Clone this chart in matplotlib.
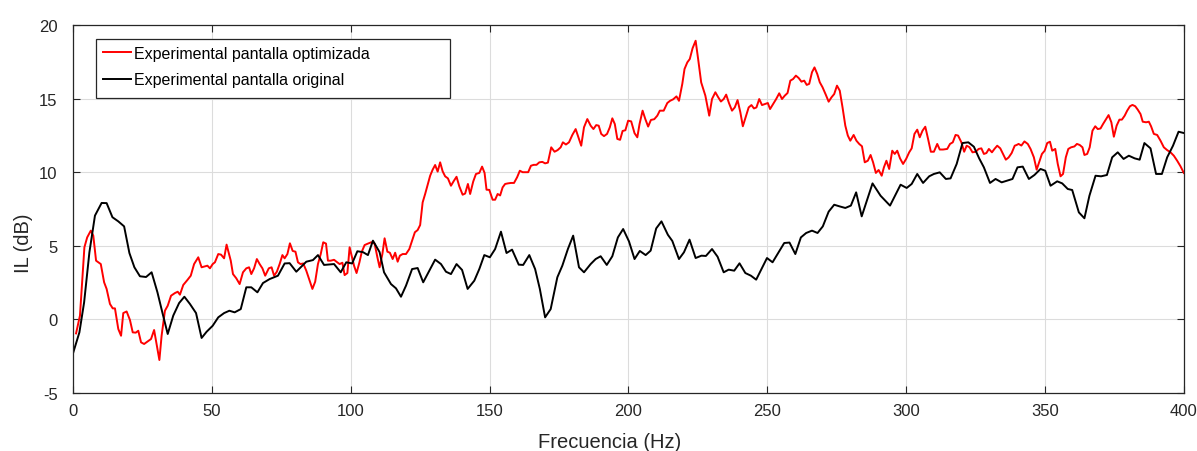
import matplotlib
matplotlib.use("Agg")
import matplotlib.pyplot as plt
from matplotlib.patches import Rectangle

# --- Data ---
freq_opt = [1.1, 2.5, 4.1, 5.1, 6.4, 7.3, 8.3, 10.0, 11.2, 12.1, 13.3, 14.3, 15.1, 16.3, 17.3, 18.1,
            19.3, 20.5, 21.5, 22.6, 23.5, 24.5, 25.6, 26.8, 28.1, 29.2, 30.1, 31.1, 31.9, 33.1, 34.1,
            35.3, 36.7, 37.7, 38.5, 39.7, 41.2, 42.4, 43.6, 45.1, 46.3, 47.5, 48.4, 49.3, 50.3, 51.1,
            52.3, 53.3, 54.4, 55.3, 56.8, 57.6, 58.8, 60.0, 61.2, 62.4, 63.4, 64.2, 65.2, 66.2, 67.2,
            68.2, 69.2, 70.5, 71.5, 72.4, 73.4, 74.4, 75.4, 76.2, 77.2, 78.1, 79.1, 80.1, 81.0, 81.9,
            82.9, 84.0, 85.2, 86.2, 87.2, 88.2, 89.2, 90.1, 91.1, 91.8, 92.8, 94.0, 95.0, 96.0, 97.0,
            97.8, 98.8, 99.6, 100.2, 101.2, 102.1, 103.1, 104.0, 105.0, 106.2, 107.4, 108.6, 109.6,
            110.4, 111.4, 112.2, 113.2, 114.1, 115.1, 116.0, 116.9, 117.7, 118.7, 119.9, 121.1, 122.1,
            123.1, 124.1, 125.0, 125.9, 126.8, 127.7, 128.6, 129.5, 130.4, 131.3, 132.2, 133.1, 134.0,
            135.0, 136.1, 137.1, 138.1, 139.1, 140.3, 141.2, 142.2, 143.0, 144.1, 145.1, 146.3, 147.3,
            148.2, 148.9, 149.9, 151.1, 152.0, 152.9, 153.8, 154.7, 155.6, 156.6, 157.7, 158.8, 159.9,
            160.9, 161.9, 162.8, 163.9, 164.9, 165.9, 166.9, 167.9, 169.0, 170.0, 171.0, 172.2, 173.4,
            174.5, 175.6, 176.4, 177.5, 178.6, 179.8, 181.0, 182.2, 183.0, 184.0, 185.2, 186.4, 187.4,
            188.4, 189.3, 190.2, 191.2, 192.3, 193.3, 194.2, 195.1, 196.0, 197.0, 197.9, 198.9, 199.9,
            201.0, 202.2, 203.2, 204.0, 205.1, 206.1, 207.1, 208.1, 209.3, 210.4, 211.3, 212.7, 214.0,
            215.0, 216.1, 217.3, 218.2, 219.4, 220.2, 221.2, 222.1, 223.1, 224.2, 225.1, 226.2, 227.7,
            229.1, 230.1, 231.3, 232.3, 233.3, 234.3, 235.2, 236.2, 237.3, 238.3, 239.3, 240.3, 241.2,
            242.2, 243.3, 244.3, 245.2, 246.1, 247.1, 248.1, 249.2, 250.2, 251.0, 252.1, 253.2, 254.3,
            255.3, 256.3, 257.3, 258.3, 259.3, 260.3, 261.3, 262.3, 263.3, 264.2, 265.1, 266.1, 267.0,
            268.0, 268.9, 269.9, 271.1, 272.1, 273.1, 274.1, 275.1, 276.1, 277.1, 278.1, 279.0, 279.9,
            281.1, 282.1, 283.1, 284.1, 285.1, 286.2, 287.2, 288.1, 289.1, 290.1, 291.2, 292.0, 292.9,
            293.9, 295.0, 295.9, 296.8, 297.8, 298.9, 300.0, 301.1, 302.0, 303.0, 304.0, 304.9, 305.9,
            306.9, 307.9, 308.9, 310.0, 311.2, 312.1, 313.3, 314.8, 315.8, 316.8, 317.8, 318.7, 319.9,
            320.9, 321.8, 322.8, 323.9, 325.1, 326.1, 327.1, 328.0, 328.9, 329.8, 330.9, 331.8, 332.8,
            333.9, 334.9, 335.9, 336.9, 338.0, 339.1, 339.8, 340.5, 341.5, 342.6, 343.8, 344.8, 346.0,
            347.0, 347.9, 348.9, 349.9, 350.8, 351.8, 352.6, 353.7, 354.6, 355.6, 356.5, 357.5, 358.4,
            359.4, 360.6, 361.5, 362.5, 363.5, 364.2, 365.2, 366.1, 367.1, 368.1, 369.0, 370.0, 370.9,
            371.9, 372.9, 373.9, 374.8, 375.8, 376.8, 377.7, 378.7, 379.6, 380.6, 381.5, 382.5, 383.4,
            384.4, 385.2, 386.4, 387.4, 388.2, 389.2, 390.4, 391.6, 392.8, 394.0, 395.2, 396.4, 397.6,
            398.8, 400.0]
il_opt = [-0.95, 0.26, 4.9, 5.57, 6.03, 5.69, 3.99, 3.76, 2.52, 2.07, 1.05, 0.75, 0.75, -0.65, -1.11, 0.43,
          0.54, -0.04, -0.88, -0.9, -0.77, -1.56, -1.67, -1.51, -1.33, -0.72, -1.67, -2.76, -1.11, 0.59, 0.93,
          1.61, 1.79, 1.88, 1.68, 2.34, 2.68, 2.97, 3.76, 4.22, 3.54, 3.6, 3.65, 3.47, 3.76, 3.88,
          4.44, 4.4, 4.15, 5.08, 3.99, 3.08, 2.79, 2.4, 3.2, 3.47, 3.54, 3.08, 3.47, 4.1, 3.76,
          3.47, 2.97, 3.47, 3.54, 2.97, 3.24, 3.76, 4.37, 4.15, 4.44, 5.17, 4.65, 4.6, 3.88, 3.76,
          3.8, 3.31, 2.63, 2.07, 2.56, 3.76, 4.44, 5.24, 5.15, 3.99, 3.99, 4.05, 3.9, 3.76, 3.85,
          3.01, 3.15, 4.9, 4.44, 3.65, 3.15, 3.85, 4.6, 5.05, 5.15, 5.24, 5.15, 4.22,
          3.54, 4.44, 5.51, 4.6, 4.53, 4.1, 4.53, 3.92, 4.33, 4.44, 4.44, 4.78, 5.35,
          5.92, 6.07, 6.41, 7.95, 8.52, 9.13, 9.76, 10.17, 10.49, 10.04, 10.67, 10.06, 9.72,
          9.58, 9.08, 9.4, 9.69, 9.04, 8.47, 8.55, 9.2, 8.52, 9.36, 9.88, 9.95, 10.38,
          9.95, 8.81, 8.8, 8.13, 8.13, 8.52, 8.42, 8.97, 9.2, 9.24, 9.27, 9.27, 9.65,
          10.1, 10.0, 10.0, 10.0, 10.44, 10.5, 10.5, 10.67, 10.7, 10.6, 10.65, 11.69, 11.39,
          11.5, 11.69, 12.03, 11.88, 12.03, 12.53, 12.93, 12.26, 11.8, 13.05, 13.61, 13.16, 12.93,
          13.2, 13.16, 12.6, 12.45, 12.6, 13.05, 13.66, 13.27, 12.26, 12.2, 12.8, 12.85, 13.5,
          13.45, 12.65, 12.37, 13.27, 14.18, 13.6, 13.1, 13.55, 13.6, 13.84, 14.18, 14.18, 14.7,
          14.85, 14.95, 15.15, 14.85, 16.0, 17.01, 17.46, 17.69, 18.42, 18.93, 17.69, 16.1, 15.2,
          13.84, 14.97, 15.43, 15.1, 14.8, 14.97, 15.27, 14.7, 14.18, 14.4, 14.9, 14.07, 13.12,
          13.73, 14.4, 14.56, 14.33, 14.4, 14.97, 14.56, 14.63, 14.7, 14.29, 14.63, 14.97, 15.36,
          14.97, 15.2, 15.38, 16.22, 16.33, 16.56, 16.4, 16.15, 16.22, 15.93, 16.0, 16.79, 17.12,
          16.67, 16.11, 15.77, 15.25, 14.79, 15.08, 15.31, 15.88, 15.54, 14.4, 13.16, 12.49, 12.14,
          12.53, 12.14, 11.92, 11.76, 10.67, 10.78, 11.17, 10.67, 9.95, 10.15, 9.76, 10.33, 10.78,
          10.22, 11.46, 11.24, 11.46, 10.94, 10.56, 10.9, 11.35, 11.62, 12.6, 12.89, 12.37, 12.82,
          13.09, 12.26, 11.39, 11.39, 11.92, 11.54, 11.54, 11.58, 11.92, 12.03, 12.53, 12.49, 12.03,
          11.39, 11.8, 11.7, 11.35, 11.39, 11.58, 11.62, 11.24, 11.3, 11.58, 11.35, 11.58, 11.8,
          11.62, 11.24, 10.85, 11.0, 11.3, 11.8, 11.85, 11.92, 11.81, 12.09, 11.92, 11.58, 11.01,
          10.17, 10.67, 11.24, 11.46, 11.98, 12.07, 11.46, 11.58, 10.56, 9.72, 9.88, 11.01, 11.58,
          11.69, 11.75, 11.92, 11.85, 11.69, 11.17, 11.24, 11.69, 12.82, 13.12, 12.93, 12.97, 13.27,
          13.57, 13.88, 13.39, 12.41, 13.16, 13.57, 13.57, 13.84, 14.18, 14.48, 14.57, 14.48, 14.25,
          13.95, 13.43, 13.39, 13.43, 13.12, 12.6, 12.53, 12.14, 11.69, 11.5, 11.35, 11.12, 10.78,
          10.4, 9.95]

freq_orig = [0.1, 2.3, 4.0, 5.9, 7.9, 10.3, 12.1, 14.2, 16.3, 18.4, 20.3, 22.1, 24.1, 26.3, 28.3, 30.4,
             32.3, 34.1, 36.1, 38.2, 40.1, 42.1, 44.3, 46.3, 48.1, 50.3, 52.3, 54.4, 56.3, 58.2, 60.4,
             62.4, 64.2, 66.4, 68.4, 70.8, 73.8, 76.2, 78.0, 80.4, 84.0, 86.4, 88.2, 90.4, 94.0, 96.4,
             98.4, 100.5, 102.4, 104.4, 106.2, 108.0, 110.4, 112.0, 114.5, 116.3, 118.1, 119.9, 122.1,
             124.1, 126.1, 128.3, 130.4, 132.5, 134.3, 136.1, 138.1, 140.1, 142.1, 144.5, 146.3, 148.1,
             150.1, 152.0, 154.1, 156.1, 158.1, 160.5, 162.1, 164.3, 166.4, 168.1, 170.0, 172.0, 174.4,
             176.2, 178.2, 180.1, 182.2, 184.0, 186.4, 188.2, 190.0, 192.2, 194.2, 196.2, 198.1, 200.2,
             202.2, 204.1, 206.2, 208.0, 210.0, 211.9, 214.2, 215.8, 218.2, 220.0, 222.0, 224.2, 226.3,
             227.9, 230.1, 232.1, 234.3, 236.1, 238.1, 240.0, 242.1, 244.1, 246.0, 248.1, 249.9, 251.9,
             254.1, 256.1, 258.0, 260.1, 262.1, 264.0, 266.1, 268.1, 270.0, 272.1, 274.1, 276.0, 278.1,
             280.1, 282.0, 284.0, 287.9, 290.8, 294.2, 298.0, 300.2, 302.0, 304.0, 306.1, 308.3, 310.0,
             312.1, 314.3, 316.0, 318.2, 320.3, 322.4, 324.4, 326.3, 328.0, 330.2, 332.2, 334.4, 336.5,
             338.3, 340.1, 342.0, 344.2, 346.2, 348.4, 350.1, 352.0, 354.4, 356.2, 358.2, 359.8, 362.2,
             364.2, 366.0, 368.2, 370.2, 372.3, 374.2, 376.2, 378.3, 380.2, 382.3, 384.1, 385.8, 388.0,
             390.0, 392.1, 394.0, 396.1, 398.1, 400.0]
il_orig = [-2.24, -0.88, 1.16, 4.56, 7.05, 7.91, 7.9, 6.94, 6.66, 6.32, 4.51, 3.54, 2.93, 2.88, 3.2, 1.84,
           0.37, -0.99, 0.26, 1.11, 1.54, 1.05, 0.43, -1.26, -0.84, -0.43, 0.14, 0.43, 0.59, 0.48, 0.7,
           2.18, 2.18, 1.84, 2.47, 2.74, 2.97, 3.8, 3.82, 3.24, 3.92, 4.03, 4.37, 3.7, 3.76, 3.2,
           3.88, 3.8, 4.63, 4.57, 4.37, 5.35, 4.57, 3.2, 2.4, 2.11, 1.54, 2.29, 3.42,
           3.49, 2.52, 3.31, 4.06, 3.76, 3.24, 3.08, 3.76, 3.36, 2.07, 2.63, 3.42, 4.37,
           4.22, 4.78, 5.96, 4.51, 4.74, 3.72, 3.7, 4.37, 3.42, 2.07, 0.14, 0.7, 2.86,
           3.65, 4.78, 5.69, 3.54, 3.2, 3.76, 4.1, 4.29, 3.7, 4.29, 5.57, 6.14, 5.3,
           4.1, 4.65, 4.37, 4.67, 6.18, 6.66, 5.75, 5.33, 4.1, 4.56, 5.42, 4.17, 4.33,
           4.31, 4.78, 4.26, 3.2, 3.38, 3.31, 3.81, 3.15, 2.97, 2.7, 3.49, 4.17, 3.88,
           4.56, 5.19, 5.22, 4.44, 5.57, 5.87, 6.03, 5.87, 6.32, 7.32, 7.79, 7.68, 7.57,
           7.73, 8.63, 7.0, 9.24, 8.4, 7.73, 9.15, 8.93, 9.2, 9.88, 9.27, 9.72, 9.88,
           9.99, 9.54, 9.58, 10.56, 11.98, 12.03, 11.73, 10.94, 10.33, 9.27, 9.54, 9.31, 9.43,
           9.54, 10.33, 10.38, 9.54, 9.81, 10.22, 10.1, 9.08, 9.38, 9.24, 8.86, 8.79, 7.27,
           6.87, 8.4, 9.76, 9.72, 9.81, 11.01, 11.35, 10.9, 11.12, 10.94, 10.85, 11.98, 11.62,
           9.88, 9.88, 11.01, 11.8, 12.75, 12.66]

label_opt = "Experimental pantalla optimizada"
label_orig = "Experimental pantalla original"
xticks = [0, 50, 100, 150, 200, 250, 300, 350, 400]
yticks = [-5, 0, 5, 10, 15, 20]

plt.rcParams['font.family'] = ['Liberation Sans', 'DejaVu Sans']
plt.rcParams['axes.unicode_minus'] = False

fig = plt.figure(figsize=(11.97, 4.52), dpi=100)
ax = fig.add_axes([0.061, 0.1283, 0.928, 0.8142])

ax.plot(freq_opt, il_opt, color='#ff0000', lw=1.4, label=label_opt)
ax.plot(freq_orig, il_orig, color='#000000', lw=1.4, label=label_orig)

ax.set_xlim(0, 400)
ax.set_ylim(-5, 20)
ax.set_xticks(xticks)
ax.set_yticks(yticks)
ax.grid(True, color='#dcdcdc', lw=0.8)
ax.set_axisbelow(True)

dark = '#262626'
for s in ax.spines.values():
    s.set_color(dark)
    s.set_linewidth(0.9)
ax.tick_params(direction='in', length=5, width=0.8, color=dark, labelcolor=dark,
               labelsize=12, top=True, right=True, pad=7)
ax.tick_params(axis='y', pad=11)

ax.set_xlabel("Frecuencia (Hz)", fontsize=14.5, color=dark)
ax.set_ylabel("IL (dB)", fontsize=14.5, color=dark)
ax.xaxis.set_label_coords(0.483, -0.106)
ax.yaxis.set_label_coords(-0.036, 0.41)

# legend frame drawn like the reference (wide box)
ax.add_patch(Rectangle((0.0207, 0.8016), 0.3186, 0.1604, transform=ax.transAxes,
                       facecolor='white', edgecolor=dark, lw=0.9, zorder=4))
leg = ax.legend(loc='upper left', bbox_to_anchor=(0.0207, 0.962), borderaxespad=0,
                fontsize=11.5, frameon=False, handlelength=1.75, handletextpad=0.2,
                borderpad=0.42, labelspacing=0.72)
leg.set_zorder(5)

fig.savefig("out.png", dpi=100)
